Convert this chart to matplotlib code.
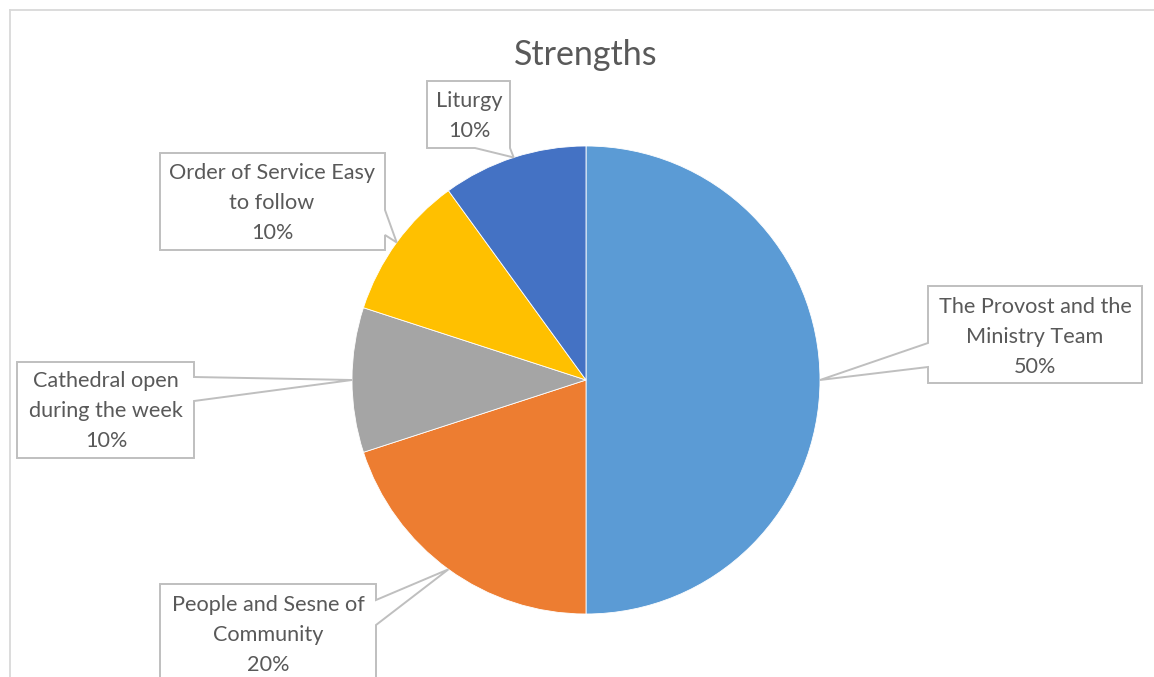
import numpy as np
import matplotlib
matplotlib.use("Agg")
import matplotlib.pyplot as plt
from matplotlib.patches import Wedge, Polygon

# ---- data ----
categories = ["The Provost and the\nMinistry Team", "People and Sesne of\nCommunity",
              "Cathedral open\nduring the week", "Order of Service Easy\nto follow", "Liturgy"]
values = [50, 20, 10, 10, 10]
colors = ["#5B9BD5", "#ED7D31", "#A5A5A5", "#FFC000", "#4472C4"]
title = "Strengths"

W, H = 1154, 677
fig = plt.figure(figsize=(W / 100, H / 100), dpi=100)
ax = fig.add_axes([0, 0, 1, 1])
ax.set_xlim(0, W)
ax.set_ylim(H, 0)
ax.set_aspect("equal")
ax.axis("off")

FONT = "Lato"
TXT = "#595959"
LINE = "#BFBFBF"

# frame (cropped chart area border)
ax.plot([10, W + 5], [10, 10], color="#D9D9D9", lw=1.3, zorder=1)
ax.plot([10, 10], [10, H + 5], color="#D9D9D9", lw=1.3, zorder=1)

# pie (image coordinates: y down, so angles measured clockwise visually)
cx, cy, R = 586, 380, 234
total = float(sum(values))
start = -90.0  # top in y-down coords
mids = []
for v, c in zip(values, colors):
    span = 360.0 * v / total
    wdg = Wedge((cx, cy), R, start, start + span, facecolor=c, edgecolor="white", lw=0.6, zorder=2)
    ax.add_patch(wdg)
    mids.append(np.deg2rad(start + span / 2))
    start += span

tips = [(cx + R * np.cos(m), cy + R * np.sin(m)) for m in mids]

def callout(box, side, a, b, tip):
    x0, y0, x1, y1 = box
    if side == "left":
        pts = [(x0, y0), (x1, y0), (x1, y1), (x0, y1), (x0, b), tip, (x0, a)]
    elif side == "right":
        pts = [(x0, y0), (x1, y0), (x1, a), tip, (x1, b), (x1, y1), (x0, y1)]
    elif side == "bottomright":
        pts = [(x0, y0), (x1, y0), (x1, y1), tip, (a, y1), (x0, y1)]
    poly = Polygon(pts, closed=True, facecolor="white", edgecolor=LINE, lw=1.4, zorder=3)
    ax.add_patch(poly)

boxes = [
    ((928, 286, 1142, 383), "left", 343, 367),
    ((160, 584, 376, 690), "right", 600, 625),
    ((17, 362, 194, 458), "right", 377, 401),
    ((160, 153, 385, 250), "right", 210, 235),
    ((427, 81, 510, 148), "bottomright", 475, None),
]
text_centers = [(1035, 337), (268, 635), (106, 411), (272, 203), (469, 116)]

for (box, side, a, b), tip, lab, v, (tx, ty) in zip(boxes, tips, categories, values, text_centers):
    callout(box, side, a, b, tip)
    ax.text(tx, ty, f"{lab}\n{v}%", ha="center", va="center", fontsize=15.6,
            family=FONT, color=TXT, linespacing=1.62, zorder=4)

ax.text(586, 55, title, ha="center", va="center", fontsize=24.5, family=FONT, color=TXT, zorder=4)

fig.savefig("out.png", dpi=100)
